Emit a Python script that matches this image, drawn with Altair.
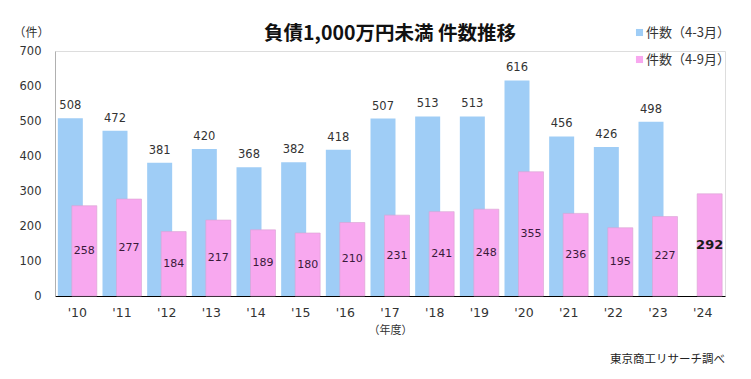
import altair as alt
import pandas as pd

# ---- data ----
years = ["'10", "'11", "'12", "'13", "'14", "'15", "'16", "'17", "'18", "'19", "'20", "'21", "'22", "'23", "'24"]
full_year = [508, 472, 381, 420, 368, 382, 418, 507, 513, 513, 616, 456, 426, 498, None]
half_year = [258, 277, 184, 217, 189, 180, 210, 231, 241, 248, 355, 236, 195, 227, 292]
series_names = ["件数（4-3月）", "件数（4-9月）"]
series_colors = ["#9fcdf6", "#f8a8ef"]
title_text = "負債1,000万円未満  件数推移"
source_note = "東京商工リサーチ調べ"
y_ticks = [0, 100, 200, 300, 400, 500, 600, 700]

df = pd.DataFrame({"year": years, "full": full_year, "half": half_year})

JP = "Noto Sans CJK JP"
NUM = "DejaVu Sans"

x_enc = alt.X(
    "year:N",
    sort=years,
    scale=alt.Scale(paddingInner=0, paddingOuter=0),
    axis=alt.Axis(
        title="（年度）",
        titleFont=JP,
        titleFontSize=11,
        titleFontWeight="normal",
        titleColor="#333333",
        titlePadding=6,
        labelFont=NUM,
        labelFontSize=12.5,
        labelColor="#333333",
        labelAngle=0,
        labelPadding=10,
        ticks=False,
        domainColor="#000000",
        domainWidth=1,
    ),
)

y_scale = alt.Scale(domain=[0, 700])
y_axis = alt.Axis(
    title="（件）",
    titleFont=JP,
    titleFontSize=12,
    titleFontWeight="normal",
    titleColor="#333333",
    titleAngle=0,
    titleAlign="center",
    titleBaseline="middle",
    titleX=-24,
    titleY=-19,
    values=y_ticks,
    labelFont=NUM,
    labelFontSize=11.5,
    labelColor="#333333",
    labelPadding=14,
    ticks=False,
    grid=False,
    domainColor="#b0b0b0",
)

color_scale = alt.Scale(domain=series_names, range=series_colors)
legend = alt.Legend(
    title=None,
    orient="none",
    legendX=578,
    legendY=-25,
    symbolType="square",
    symbolSize=50,
    symbolStrokeWidth=0,
    labelFont=JP,
    labelFontSize=13,
    labelColor="#333333",
    rowPadding=13,
    labelOffset=0,
)

base = alt.Chart(df)

blue_bars = base.transform_filter("isValid(datum.full)").transform_calculate(
    series=f"'{series_names[0]}'"
).mark_bar(size=25, xOffset=-7).encode(
    x=x_enc,
    y=alt.Y("full:Q", scale=y_scale, axis=y_axis),
    color=alt.Color("series:N", scale=color_scale, legend=legend),
)

pink_bars = base.transform_calculate(
    series=f"'{series_names[1]}'"
).mark_bar(size=25, xOffset=7, stroke="#d9a3d2", strokeWidth=0.6).encode(
    x=x_enc,
    y=alt.Y("half:Q", scale=y_scale, axis=y_axis),
    color=alt.Color("series:N", scale=color_scale, legend=legend),
)

blue_labels = base.transform_filter("isValid(datum.full)").mark_text(
    dx=-7, dy=-7, baseline="bottom", font=NUM, fontSize=11.5, color="#333333"
).encode(
    x=x_enc,
    y=alt.Y("full:Q", scale=y_scale, axis=y_axis),
    text=alt.Text("full:Q", format="d"),
)

pink_labels = base.transform_filter("datum.year != \"'24\"").transform_calculate(
    mid="datum.half / 2"
).mark_text(dx=7, baseline="middle", font=NUM, fontSize=11, color="#3a1a3a").encode(
    x=x_enc,
    y=alt.Y("mid:Q", scale=y_scale, axis=y_axis),
    text=alt.Text("half:Q", format="d"),
)

last_label = base.transform_filter("datum.year == \"'24\"").transform_calculate(
    mid="datum.half / 2"
).mark_text(dx=7, baseline="middle", font=NUM, fontSize=13, fontWeight="bold", color="#1a1a1a").encode(
    x=x_enc,
    y=alt.Y("mid:Q", scale=y_scale, axis=y_axis),
    text=alt.Text("half:Q", format="d"),
)

note = alt.Chart(pd.DataFrame({"t": [source_note]})).mark_text(
    align="right", baseline="middle", font=JP, fontSize=11.5, color="#222222"
).encode(x=alt.value(670), y=alt.value(309), text="t:N")

chart = alt.layer(blue_bars, pink_bars, blue_labels, pink_labels, last_label, note).properties(
    width=670,
    height=245,
    title=alt.TitleParams(
        text=title_text,
        font=JP,
        fontSize=19.5,
        fontWeight="bold",
        color="#111111",
        anchor="middle",
        frame="group",
        offset=8,
        dy=26,
    ),
    padding={"left": 47, "top": 43, "right": 18, "bottom": 75},
    autosize=alt.AutoSizeParams(type="none"),
).configure_view(stroke=None).configure(background="white")

chart.save("out.html", embed_options={"renderer": "svg", "actions": False})
